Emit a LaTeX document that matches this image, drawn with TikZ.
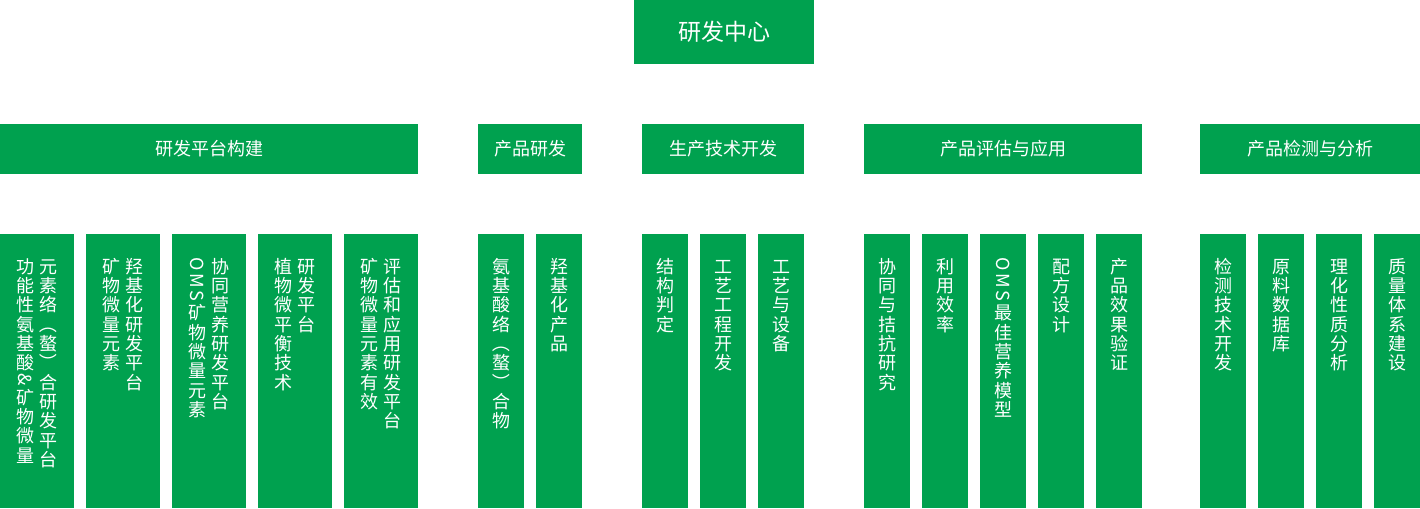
\documentclass[tikz,border=0pt]{standalone}
\usepackage{fontspec}
\setmainfont{Noto Sans CJK SC}
\definecolor{LabGreen}{HTML}{00A14F}
\newcommand\pxu{0.75pt}
\newlength\vgap
\setlength\vgap{1pt}
% vertical text: one glyph per row, latin letters and brackets turned
\makeatletter
\newcommand\vtext[1]{\vbox{\offinterlineskip\expandafter\vt@next#1\relax}}
\def\vt@next#1{\ifx\relax#1\else\vt@item{#1}\expandafter\vt@next\fi}
\def\vt@item#1{%
  \ifnum`#1<256 \vt@rot{#1}\kern1pt
  \else\ifnum`#1>65279 \vt@rot{#1}%
  \else\vt@cjk{#1}\fi\fi}
\def\vt@cjk#1{\hbox to 1em{\hss\vrule height.88em depth.12em width0pt\relax#1\hss}\kern\vgap}
\def\vt@rot#1{\hbox to 1em{\hss\rotatebox{-90}{\vrule height.88em depth.12em width0pt\relax#1}\hss}\kern\vgap}
\makeatother
\tikzset{
  every node/.style={text=white},
  hub/.style={fill=LabGreen, inner sep=0pt, minimum width=180*\pxu, minimum height=64*\pxu,
    font=\fontsize{17.25pt}{20pt}\selectfont},
  branch/.style={fill=LabGreen, inner sep=0pt, minimum height=50*\pxu,
    font=\fontsize{13.5pt}{16pt}\selectfont},
  leaf/.style={fill=LabGreen, inner sep=0pt, minimum height=274*\pxu},
  vlabel/.style={inner sep=0pt, anchor=north, font=\fontsize{13.5pt}{16pt}\selectfont},
}
\begin{document}
\begin{tikzpicture}[x=0.75pt, y=-0.75pt]
  \useasboundingbox (0,0) rectangle (1420,508);
  % Top
  \node[hub] (center) at (724,32) {研发中心};
  % Second level
  \node[branch, minimum width=418*\pxu] (build) at (209,149) {研发平台构建};
  \node[branch, minimum width=104*\pxu] (prod) at (530,149) {产品研发};
  \node[branch, minimum width=162*\pxu] (tech) at (723,149) {生产技术开发};
  \node[branch, minimum width=278*\pxu] (eval) at (1003,149) {产品评估与应用};
  \node[branch, minimum width=220*\pxu] (test) at (1310,149) {产品检测与分析};
  % Platforms (two lines each)
  \foreach \x/\n/\a/\b in {0/plat1/功能性氨基酸\&矿物微量/元素络（螯）合研发平台,
      86/plat2/矿物微量元素/羟基化研发平台,
      172/plat3/OMS矿物微量元素/协同营养研发平台,
      258/plat4/植物微平衡技术/研发平台,
      344/plat5/矿物微量元素有效/评估和应用研发平台} {
    \node[leaf, minimum width=74*\pxu] (\n) at (\x+37,371) {};
    \node[vlabel] (\n-a) at (\x+25.3,257) {\vtext{\a}};
    \node[vlabel] (\n-b) at (\x+48.7,257) {\vtext{\b}};
  }
  % Other columns (one line each)
  \foreach \x/\n/\t in {478/prod1/氨基酸络（螯）合物, 536/prod2/羟基化产品,
      642/tech1/结构判定, 700/tech2/工艺工程开发, 758/tech3/工艺与设备,
      864/eval1/协同与拮抗研究, 922/eval2/利用效率, 980/eval3/OMS最佳营养模型,
      1038/eval4/配方设计, 1096/eval5/产品效果验证,
      1200/test1/检测技术开发, 1258/test2/原料数据库, 1316/test3/理化性质分析,
      1374/test4/质量体系建设} {
    \node[leaf, minimum width=46*\pxu] (\n) at (\x+23,371) {};
    \node[vlabel] (\n-a) at (\x+23,257) {\vtext{\t}};
  }
\end{tikzpicture}
\end{document}
